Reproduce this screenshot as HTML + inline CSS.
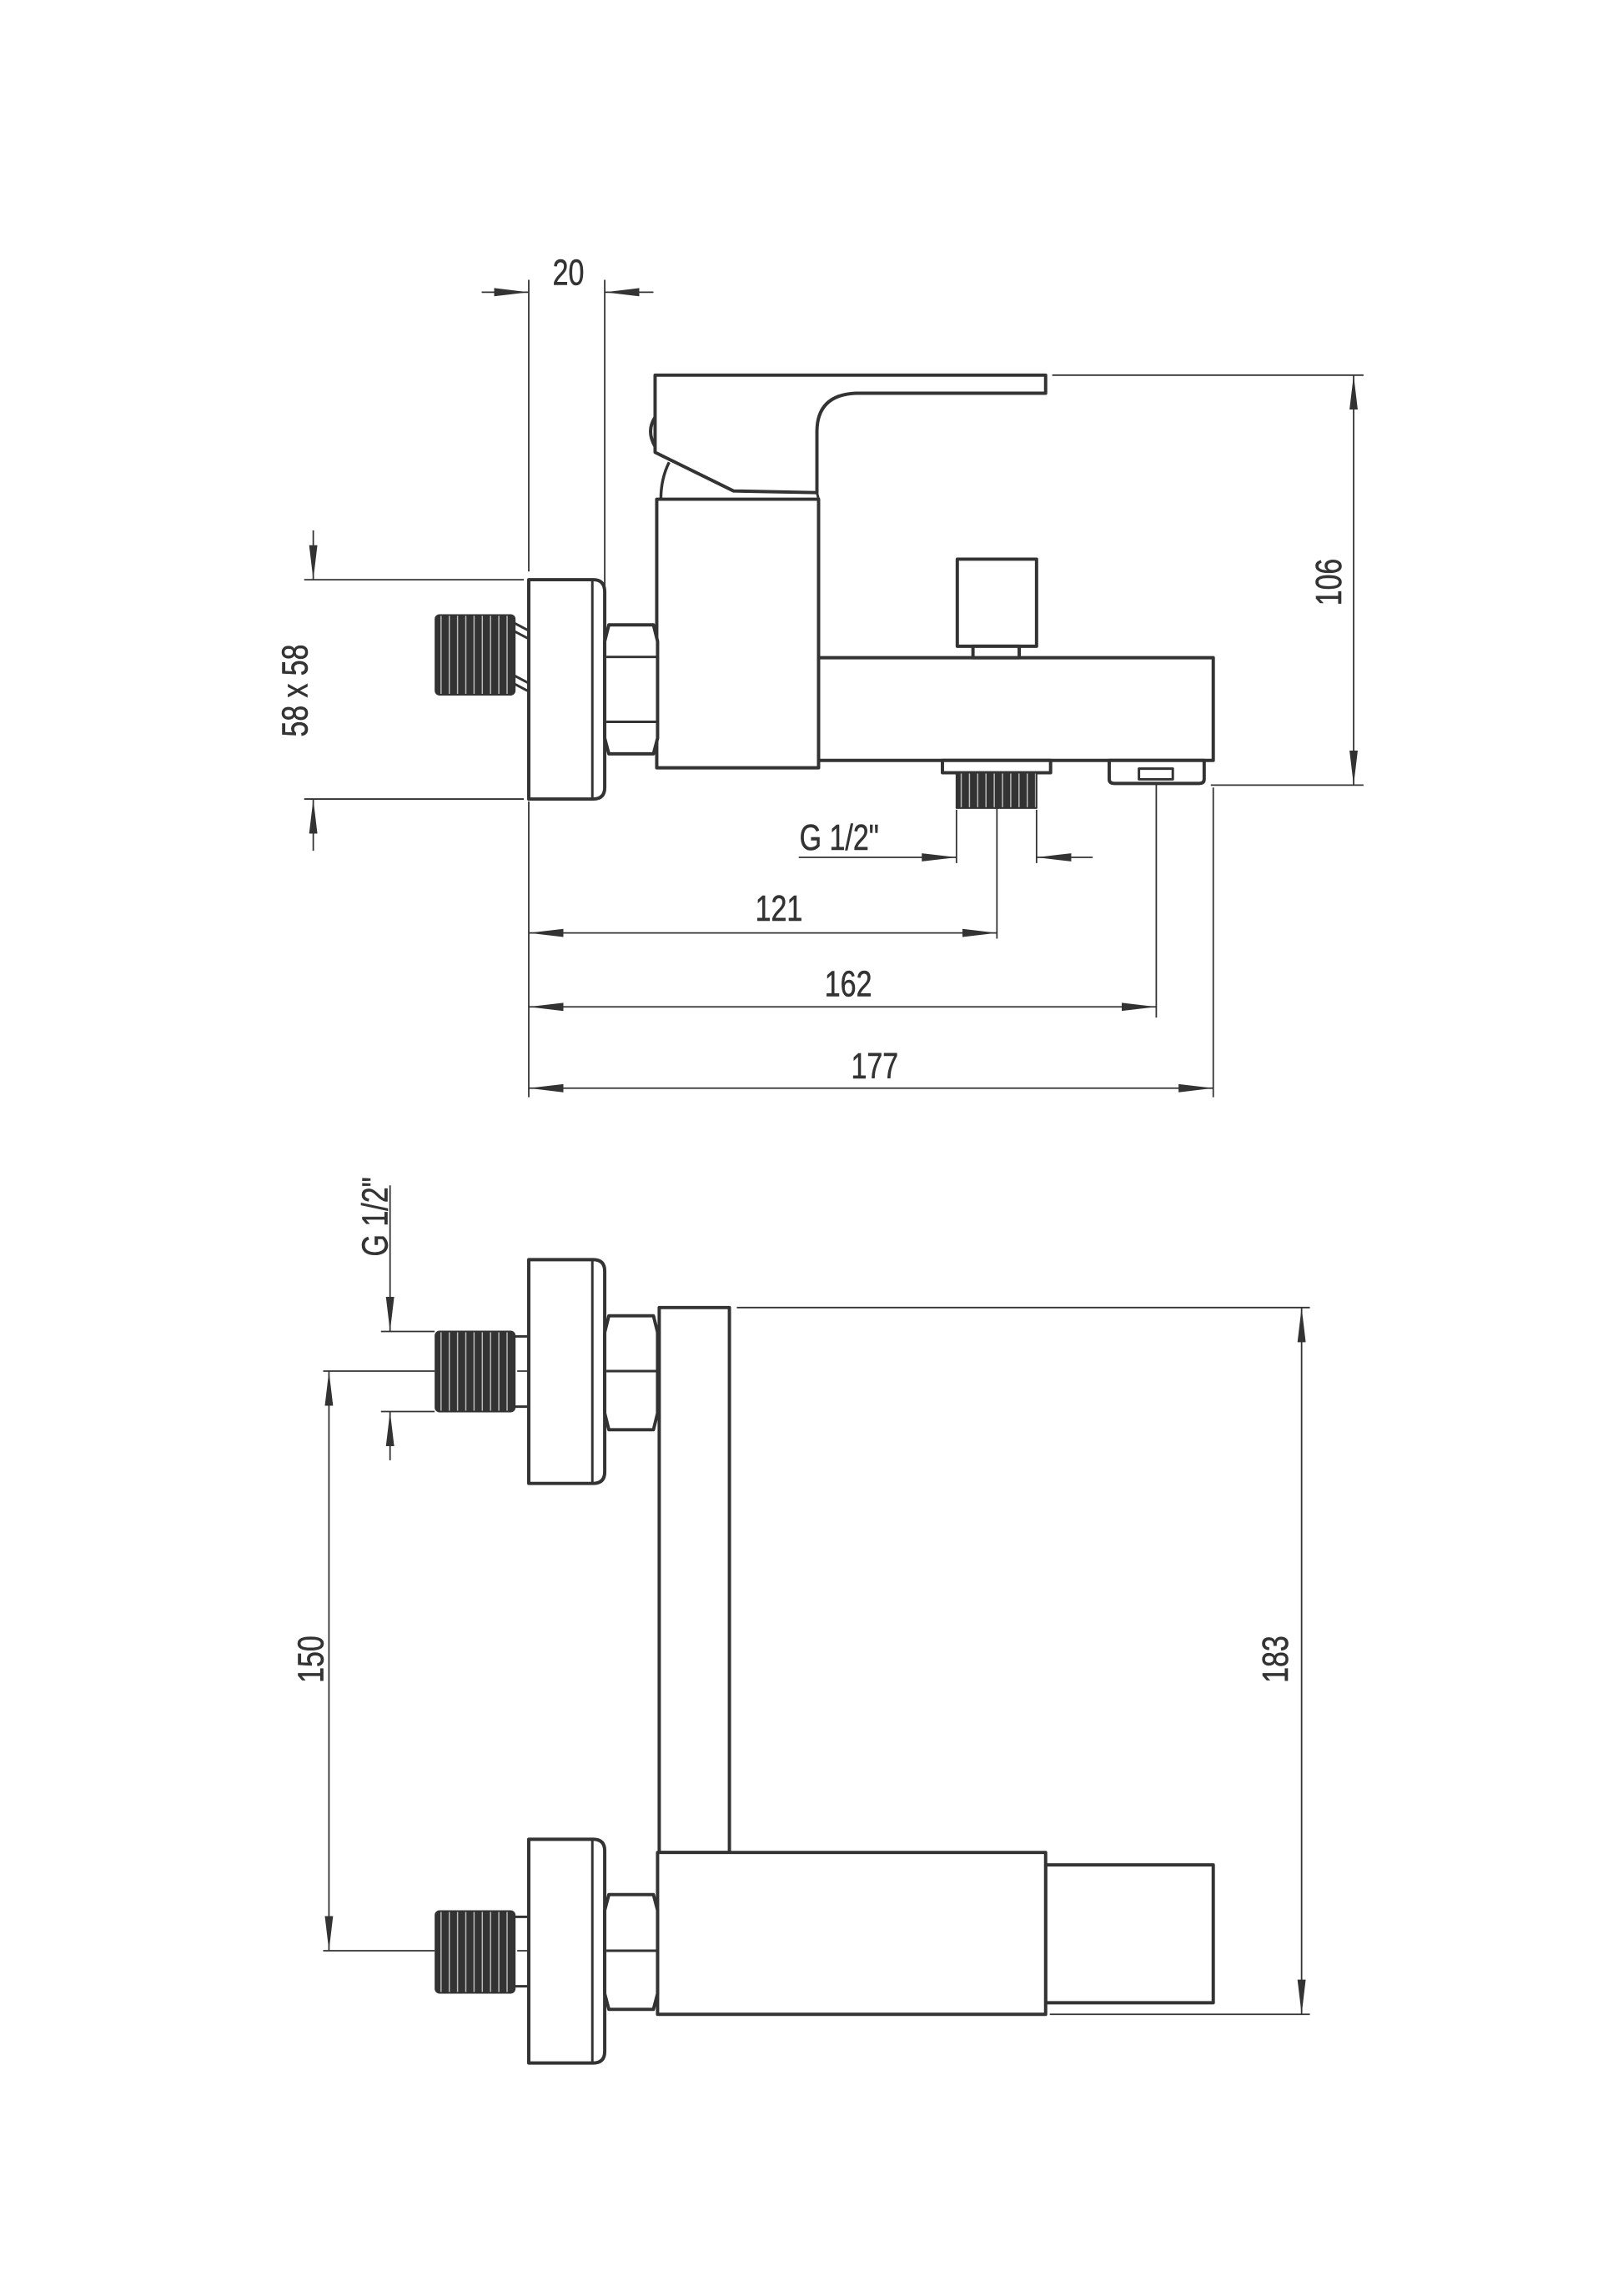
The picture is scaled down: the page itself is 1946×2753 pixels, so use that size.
<!DOCTYPE html>
<html><head><meta charset="utf-8"><style>
html,body{margin:0;padding:0;background:#fff}
svg{display:block}
text{font-family:"Liberation Sans",sans-serif;fill:#333;font-size:44px;stroke:#333;stroke-width:0.6}
</style></head><body>
<svg width="1946" height="2753" viewBox="0 0 1946 2753" xmlns="http://www.w3.org/2000/svg">
<defs>
<marker id="a" markerUnits="userSpaceOnUse" markerWidth="44" markerHeight="12" refX="42" refY="6" orient="auto-start-reverse">
<path d="M0,1 L42,6 L0,11 z" fill="#333"/>
</marker>
<pattern id="th" width="10" height="10" patternUnits="userSpaceOnUse">
<rect width="10" height="10" fill="#333"/><rect x="7" width="1.5" height="10" fill="#bbb"/>
</pattern>
</defs>

<!-- TOP VIEW -->
<g transform="translate(634,700) scale(0.99,0.985) translate(-634,-700)">
<g fill="none" stroke="#333" stroke-width="1.8">
<line x1="634" y1="330" x2="634" y2="685"/>
<line x1="726" y1="330" x2="726" y2="750"/>
<line x1="577" y1="345" x2="634" y2="345" marker-end="url(#a)"/>
<line x1="785" y1="345" x2="726" y2="345" marker-end="url(#a)"/>
<line x1="1268" y1="446" x2="1645" y2="446"/>
<line x1="1460" y1="945" x2="1645" y2="945"/>
<line x1="1633" y1="446" x2="1633" y2="945" marker-start="url(#a)" marker-end="url(#a)"/>
<line x1="362" y1="695" x2="628" y2="695"/>
<line x1="362" y1="962" x2="628" y2="962"/>
<line x1="373" y1="635" x2="373" y2="695" marker-end="url(#a)"/>
<line x1="373" y1="1025" x2="373" y2="962" marker-end="url(#a)"/>
<line x1="1152" y1="975" x2="1152" y2="1040"/>
<line x1="1249" y1="975" x2="1249" y2="1040"/>
<line x1="961" y1="1033" x2="1152" y2="1033" marker-end="url(#a)"/>
<line x1="1317" y1="1033" x2="1249" y2="1033" marker-end="url(#a)"/>
<line x1="1201" y1="900" x2="1201" y2="1132"/>
<line x1="1394" y1="900" x2="1394" y2="1228"/>
<line x1="1463" y1="948" x2="1463" y2="1325"/>
<line x1="634" y1="965" x2="634" y2="1325"/>
<line x1="634" y1="1125" x2="1201" y2="1125" marker-start="url(#a)" marker-end="url(#a)"/>
<line x1="634" y1="1215" x2="1394" y2="1215" marker-start="url(#a)" marker-end="url(#a)"/>
<line x1="634" y1="1314" x2="1463" y2="1314" marker-start="url(#a)" marker-end="url(#a)"/>
</g>
<g fill="#fff" stroke="#333" stroke-width="4" stroke-linejoin="round">
<path d="M787,446 L1260,446 L1260,468 L1030,468 Q983,470 983,515 L983,589 L882,587 L787,540 Z"/>
<path d="M787,497 Q776,514 787,533" fill="none"/>
<path d="M804,552 Q794,572 794,597" fill="none" stroke-width="3.5"/>
<line x1="983" y1="589" x2="985" y2="597" stroke-width="3"/>
<rect x="789" y="597" width="196" height="327"/>
<rect x="985" y="790" width="478" height="125"/>
<rect x="1153" y="670" width="96" height="106"/>
<rect x="1172" y="776" width="56" height="14"/>
<rect x="1135" y="915" width="131" height="15"/>
<rect x="1152" y="930" width="97" height="43" fill="url(#th)" stroke-width="2"/>
<path d="M1337,915 L1452,915 L1452,938 Q1452,943 1446,943 L1343,943 Q1337,943 1337,938 Z"/>
<rect x="1373" y="925" width="41" height="13" stroke-width="3"/>
<path d="M634,695 L712,695 Q726,695 726,710 L726,948 Q726,962 712,962 L634,962 Z"/>
<line x1="711" y1="696" x2="711" y2="961" stroke-width="3"/>
<path d="M731,750 L785,750 L790,770 L790,888 L785,907 L731,907 L726,888 L726,770 Z"/>
<line x1="728" y1="789" x2="789" y2="789" stroke-width="3"/>
<line x1="728" y1="868" x2="789" y2="868" stroke-width="3"/>
<g stroke-width="3"><line x1="617" y1="748" x2="634" y2="757"/><line x1="617" y1="758" x2="634" y2="767"/><line x1="617" y1="812" x2="634" y2="821"/><line x1="617" y1="822" x2="634" y2="831"/></g>
<rect x="521" y="738" width="96" height="97" rx="5" fill="url(#th)" stroke-width="2"/>
</g>
<g text-anchor="middle">
<text transform="translate(682,336) scale(0.78,1)">20</text>
<text transform="translate(1618,698) rotate(-90) scale(0.78,1)">106</text>
<text transform="translate(366,830) rotate(-90) scale(0.78,1)">58 x 58</text>
<text transform="translate(1010,1024) scale(0.78,1)">G 1/2"</text>
<text transform="translate(937,1110) scale(0.78,1)">121</text>
<text transform="translate(1021,1202) scale(0.78,1)">162</text>
<text transform="translate(1053,1302) scale(0.78,1)">177</text>
</g>
</g>

<!-- BOTTOM VIEW -->
<g transform="translate(0,-12) translate(634,1560) scale(0.99,0.99) translate(-634,-1560)">
<g fill="none" stroke="#333" stroke-width="1.8">
<line x1="886" y1="1580" x2="1580" y2="1580"/>
<line x1="1265" y1="2436" x2="1580" y2="2436"/>
<line x1="1570" y1="1580" x2="1570" y2="2436" marker-start="url(#a)" marker-end="url(#a)"/>
<line x1="385" y1="1657" x2="520" y2="1657"/>
<line x1="385" y1="2359" x2="520" y2="2359"/>
<line x1="392" y1="1657" x2="392" y2="2359" marker-start="url(#a)" marker-end="url(#a)"/>
<line x1="455" y1="1609" x2="520" y2="1609"/>
<line x1="455" y1="1706" x2="520" y2="1706"/>
<line x1="466" y1="1432" x2="466" y2="1609" marker-end="url(#a)"/>
<line x1="466" y1="1765" x2="466" y2="1706" marker-end="url(#a)"/>
<line x1="620" y1="1657" x2="726" y2="1657" stroke-dasharray="28,10,6,10"/>
<line x1="620" y1="2359" x2="726" y2="2359" stroke-dasharray="28,10,6,10"/>
</g>
<g fill="#fff" stroke="#333" stroke-width="4" stroke-linejoin="round">
<path d="M634,1522 L712,1522 Q726,1522 726,1536 L726,1779 Q726,1793 712,1793 L634,1793 Z"/>
<line x1="711" y1="1523" x2="711" y2="1792" stroke-width="3"/>
<path d="M731,1590 L785,1590 L790,1610 L790,1708 L785,1728 L731,1728 L726,1708 L726,1610 Z"/>
<line x1="728" y1="1657" x2="789" y2="1657" stroke-width="3"/>
<rect x="792" y="1580" width="85" height="660"/>
<rect x="1260" y="2255" width="203" height="167"/>
<rect x="790" y="2240" width="470" height="196"/>
<path d="M634,2224 L712,2224 Q726,2224 726,2238 L726,2481 Q726,2495 712,2495 L634,2495 Z"/>
<line x1="711" y1="2225" x2="711" y2="2494" stroke-width="3"/>
<path d="M731,2291 L785,2291 L790,2310 L790,2411 L785,2430 L731,2430 L726,2411 L726,2310 Z"/>
<line x1="728" y1="2359" x2="789" y2="2359" stroke-width="3"/>
<g stroke-width="3"><line x1="617" y1="1615" x2="634" y2="1615"/><line x1="617" y1="1700" x2="634" y2="1700"/><line x1="617" y1="2318" x2="634" y2="2318"/><line x1="617" y1="2402" x2="634" y2="2402"/></g>
<rect x="521" y="1609" width="96" height="97" rx="5" fill="url(#th)" stroke-width="2"/>
<rect x="521" y="2311" width="96" height="99" rx="5" fill="url(#th)" stroke-width="2"/>
</g>
<g text-anchor="middle">
<text transform="translate(463,1470) rotate(-90) scale(0.78,1)">G 1/2"</text>
<text transform="translate(385,2006) rotate(-90) scale(0.78,1)">150</text>
<text transform="translate(1553,2006) rotate(-90) scale(0.78,1)">183</text>
</g>
</g>
</svg>
</body></html>
